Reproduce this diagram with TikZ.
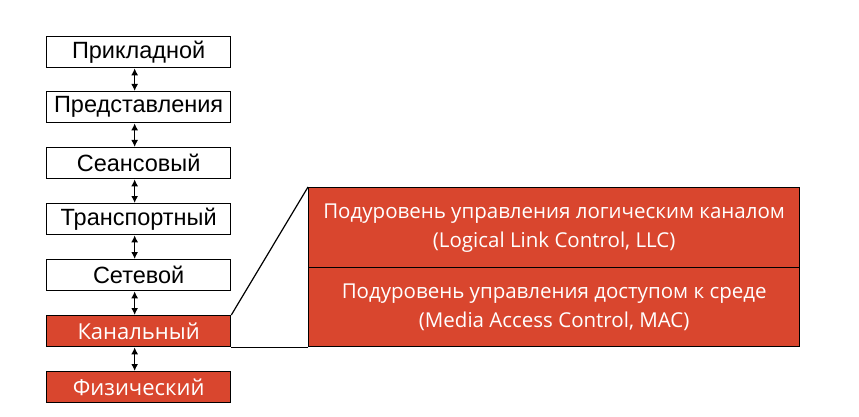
\documentclass[tikz,border=0pt]{standalone}
\usepackage{fontspec}
\setmainfont{Liberation Sans}
\newfontfamily\redfont{Open Sans}
\usetikzlibrary{arrows.meta}
\definecolor{osired}{RGB}{217,70,46}
\tikzset{
  layer/.style={draw=black, line width=1.3pt, minimum width=184pt, minimum height=31pt, inner sep=0pt, font=\fontsize{23.5}{26}\selectfont, anchor=north west},
  wlayer/.style={layer, fill=white, text=black},
  rlayer/.style={layer, fill=osired, text=white, font=\redfont\fontsize{22}{26}\selectfont},
  sublayer/.style={draw=black, line width=1.3pt, fill=osired, text=white, minimum width=491pt, minimum height=80pt, inner sep=0pt, align=center, anchor=north west, font=\redfont\fontsize{20.5}{29}\selectfont},
  link/.style={line width=1.4pt, {Latex[length=7pt,width=7pt]}-{Latex[length=7pt,width=7pt]}},
  zoomline/.style={line width=1.2pt, black}
}
\begin{document}
\begin{tikzpicture}[x=1pt,y=-1pt]
\useasboundingbox (0,0) rectangle (859,417);
\node[wlayer] (l7) at (46,36) {Прикладной};
\node[wlayer] (l6) at (46,91) {Представления};
\node[wlayer] (l5) at (46,147) {Сеансовый};
\node[wlayer] (l4) at (46,203) {Транспортный};
\node[wlayer] (l3) at (46,259) {Сетевой};
\node[rlayer] (l2) at (46,315) {Канальный};
\node[rlayer] (l1) at (46,371) {Физический};
\foreach \a/\b in {l7/l6,l6/l5,l5/l4,l4/l3,l3/l2,l2/l1}
  \draw[link] ([xshift=-4pt]\a.south) -- ([xshift=-4pt]\b.north);
\node[sublayer] (llc) at (308,187) {Подуровень управления логическим каналом\\(Logical Link Control, LLC)};
\node[sublayer, minimum height=79pt] (mac) at (308,267) {Подуровень управления доступом к среде\\(Media Access Control, MAC)};
\draw[zoomline] (l2.north east) -- (llc.north west);
\draw[zoomline] (l2.south east) -- (mac.south west);
\end{tikzpicture}
\end{document}
